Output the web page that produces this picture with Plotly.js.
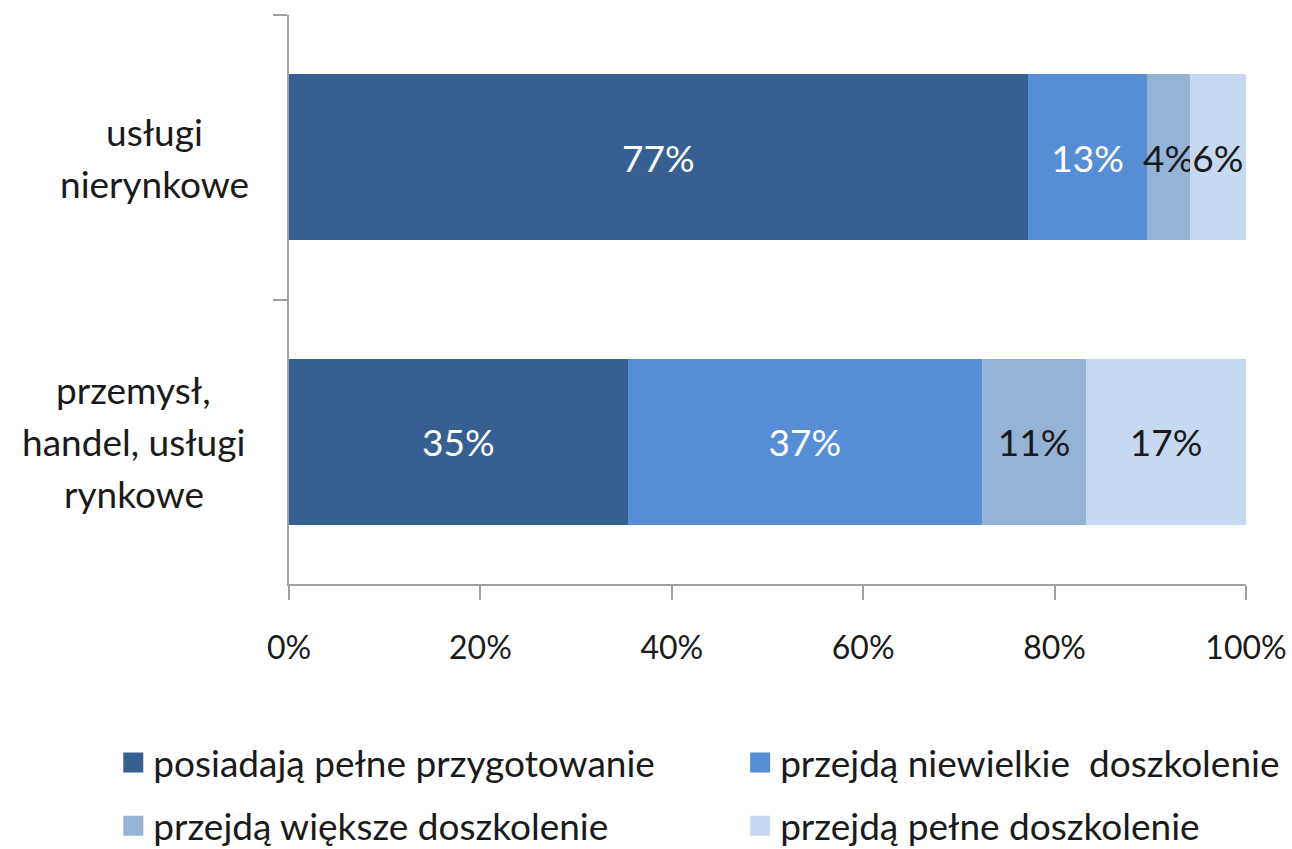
<!DOCTYPE html>
<html>
<head>
<meta charset="utf-8">
<script src="https://cdn.plot.ly/plotly-3.0.1.min.js"></script>
<style>
  html, body { margin: 0; padding: 0; background: #ffffff; }
  #chart { width: 1292px; height: 849px; }
</style>
</head>
<body>
<div id="chart"></div>
<script>
// ---- data ----
const categories = ["usługi nierynkowe", "przemysł, handel, usługi rynkowe"];
const categoryLines = [["usługi", "nierynkowe"], ["przemysł,", "handel, usługi", "rynkowe"]];
const seriesNames = [
  "posiadają pełne przygotowanie",
  "przejdą niewielkie  doszkolenie",
  "przejdą większe doszkolenie",
  "przejdą pełne doszkolenie"
];
const fullPrep = [77.2, 35.4];
const smallTraining = [12.5, 37.0];
const largerTraining = [4.4, 10.9];
const fullTraining = [5.9, 16.7];
const fullPrepLabels = ["77%", "35%"];
const smallTrainingLabels = ["13%", "37%"];
const largerTrainingLabels = ["4%", "11%"];
const fullTrainingLabels = ["6%", "17%"];
const xTicks = [0, 20, 40, 60, 80, 100];

// ---- styling ----
const FONT = "Lato, 'Open Sans', sans-serif";
const colors = ["#366092", "#558ED5", "#95B3D7", "#C6D9F1"];
const textColors = ["#ffffff", "#ffffff", "#1a1a1a", "#1a1a1a"];
const seriesValues = [fullPrep, smallTraining, largerTraining, fullTraining];
const seriesLabels = [fullPrepLabels, smallTrainingLabels, largerTrainingLabels, fullTrainingLabels];
const legendAssign = ["legend", "legend2", "legend", "legend2"];
const labelCenterX = [-0.141, -0.162];   // paper x of each category label block centre

const traces = seriesValues.map((vals, i) => ({
  type: "bar",
  orientation: "h",
  name: seriesNames[i],
  x: vals,
  y: categories,
  text: seriesLabels[i],
  textposition: "inside",
  insidetextanchor: "middle",
  textangle: 0,
  constraintext: "none",
  textfont: { family: FONT, size: 37, color: textColors[i] },
  marker: { color: colors[i], line: { width: 0 } },
  hoverinfo: "skip",
  legend: legendAssign[i],
  legendgroup: "g" + i
}));

// category labels (centered multi-line, as in the reference)
const LINE_GAP = 52;
const annotations = [];
categoryLines.forEach((lines, ci) => {
  const mid = (lines.length - 1) / 2;
  lines.forEach((ln, li) => {
    annotations.push({
      xref: "paper", yref: "y",
      x: labelCenterX[ci], y: categories[ci],
      xanchor: "center", yanchor: "middle",
      yshift: (mid - li) * LINE_GAP,
      text: ln, showarrow: false,
      font: { family: FONT, size: 37, color: "#1a1a1a" }
    });
  });
});

const legendCommon = {
  orientation: "v",
  traceorder: "grouped",
  tracegroupgap: 12,
  font: { family: FONT, size: 37, color: "#1a1a1a" },
  bgcolor: "rgba(0,0,0,0)",
  borderwidth: 0,
  itemclick: false,
  itemdoubleclick: false,
  yref: "container",
  yanchor: "top",
  xanchor: "left",
  y: 0.1378
};

const layout = {
  width: 1292,
  height: 849,
  paper_bgcolor: "#ffffff",
  plot_bgcolor: "#ffffff",
  margin: { l: 289, r: 46, t: 15, b: 265, autoexpand: false },
  barmode: "stack",
  bargap: 0.417,
  font: { family: FONT, size: 32, color: "#1a1a1a" },
  xaxis: {
    range: [0, 100],
    tickvals: xTicks,
    ticktext: xTicks.map(v => v + "%"),
    ticks: "outside",
    ticklen: 14,
    tickwidth: 2,
    tickcolor: "#A0A0A0",
    showline: true,
    linecolor: "#A0A0A0",
    linewidth: 2,
    showgrid: false,
    zeroline: false,
    ticklabelstandoff: 21,
    tickfont: { family: FONT, size: 32, color: "#1a1a1a" },
    automargin: false,
    fixedrange: true
  },
  yaxis: {
    type: "category",
    autorange: "reversed",
    tickson: "boundaries",
    ticks: "outside",
    ticklen: 14,
    tickwidth: 2,
    tickcolor: "#A0A0A0",
    showline: true,
    linecolor: "#A0A0A0",
    linewidth: 2,
    showgrid: false,
    zeroline: false,
    showticklabels: false,
    automargin: false,
    fixedrange: true
  },
  showlegend: true,
  legend: Object.assign({}, legendCommon, { x: -0.1836 }),
  legend2: Object.assign({}, legendCommon, { x: 0.4714 }),
  annotations: annotations
};

Plotly.newPlot("chart", traces, layout, { displayModeBar: false, staticPlot: true }).then(gd => {
  gd.querySelectorAll(".legendpoints path").forEach(p => p.setAttribute("d", "M10,10H-10V-10H10Z"));
});
</script>
</body>
</html>
